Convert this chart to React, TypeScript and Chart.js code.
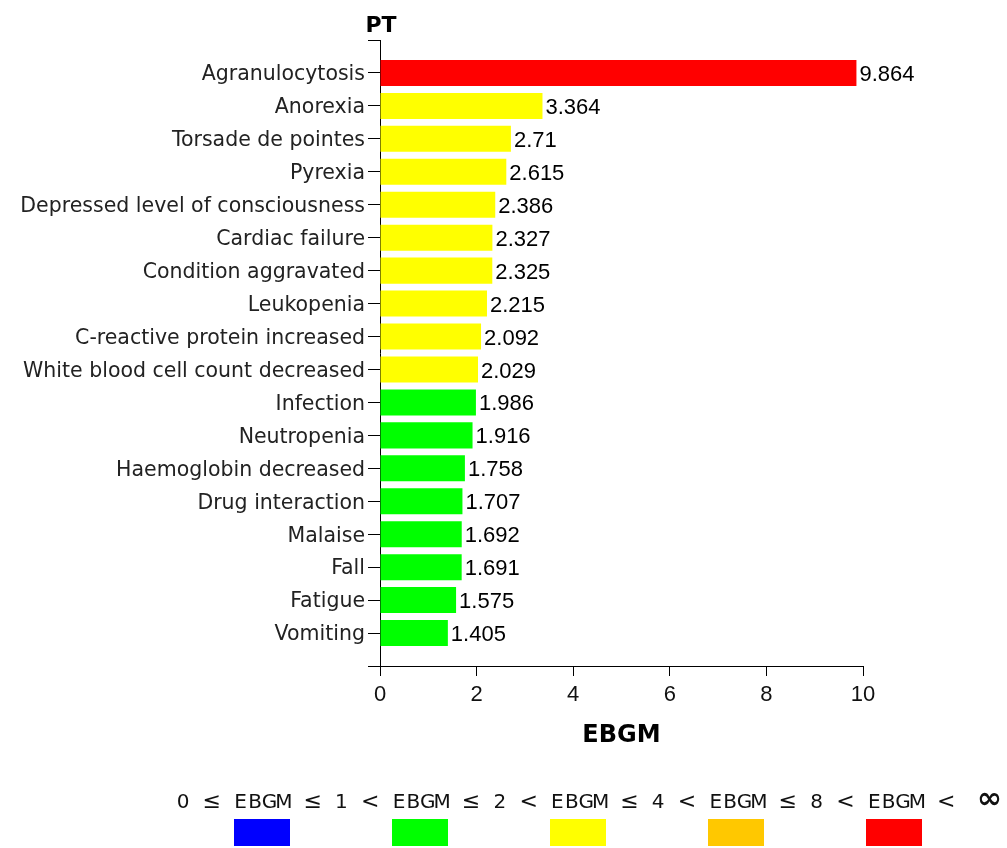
import React, { useEffect, useRef } from "react";
import { Chart, registerables } from "chart.js";

Chart.register(...registerables);

const categories = [
  "Agranulocytosis",
  "Anorexia",
  "Torsade de pointes",
  "Pyrexia",
  "Depressed level of consciousness",
  "Cardiac failure",
  "Condition aggravated",
  "Leukopenia",
  "C-reactive protein increased",
  "White blood cell count decreased",
  "Infection",
  "Neutropenia",
  "Haemoglobin decreased",
  "Drug interaction",
  "Malaise",
  "Fall",
  "Fatigue",
  "Vomiting",
];

const ebgmValues = [
  9.864, 3.364, 2.71, 2.615, 2.386, 2.327, 2.325, 2.215, 2.092, 2.029, 1.986,
  1.916, 1.758, 1.707, 1.692, 1.691, 1.575, 1.405,
];

const xTicks = [0, 2, 4, 6, 8, 10];

const legendBounds = ["0", "1", "2", "4", "8"];
const legendColors = ["#0000ff", "#00ff00", "#ffff00", "#ffc800", "#ff0000"];
const legendThresholds = [1, 2, 4, 8];

function colorFor(v: number): string {
  if (v <= legendThresholds[0]) return legendColors[0];
  if (v <= legendThresholds[1]) return legendColors[1];
  if (v <= legendThresholds[2]) return legendColors[2];
  if (v <= legendThresholds[3]) return legendColors[3];
  return legendColors[4];
}

export default function App() {
  const ref = useRef<HTMLCanvasElement | null>(null);

  useEffect(() => {
    if (!ref.current) return;
    const labels = ["", ...categories, ""];
    const data = [null, ...ebgmValues, null];
    const colors = ["#fff", ...ebgmValues.map(colorFor), "#fff"];

    const overlay = {
      id: "overlay",
      afterDraw(chart: any) {
        const ctx = chart.ctx as CanvasRenderingContext2D;
        const area = chart.chartArea;
        const meta = chart.getDatasetMeta(0);
        ctx.save();
        // value labels
        ctx.fillStyle = "#000";
        ctx.font = '22px "Liberation Sans"';
        ctx.textAlign = "left";
        ctx.textBaseline = "middle";
        meta.data.forEach((el: any, i: number) => {
          const v = data[i];
          if (v == null) return;
          ctx.fillText(String(v), el.x + 3, el.y + 2);
        });
        // PT title
        ctx.font = 'bold 22px "DejaVu Sans"';
        ctx.textAlign = "center";
        ctx.textBaseline = "alphabetic";
        ctx.fillText("PT", area.left + 1, 32);
        // EBGM axis title
        ctx.font = 'bold 24px "DejaVu Sans"';
        ctx.fillText("EBGM", (area.left + area.right) / 2, 742);
        // legend text
        const parts: string[] = [];
        legendBounds.forEach((b, i) => {
          parts.push(b, " ", i === 0 ? "≤" : "<", " ", "E", "B", "G", "M", " ");
          if (i < legendBounds.length - 1) parts.push("≤", " ");
          else parts.push("<", " ", " ", "∞");
        });
        ctx.fillStyle = "#111";
        ctx.textAlign = "center";
        const step = 14.4;
        const start = 183;
        parts.forEach((ch, i) => {
          if (ch === " ") return;
          if (ch === "∞") ctx.font = 'bold 30px "DejaVu Sans"';
          else if (ch === "≤" || ch === "<") ctx.font = '22px "DejaVu Sans"';
          else ctx.font = '20px "DejaVu Sans"';
          ctx.fillText(ch, start + i * step, 808);
        });
        // legend boxes
        legendColors.forEach((c, i) => {
          ctx.fillStyle = c;
          ctx.fillRect(234 + i * 158, 819, 56, 27);
        });
        ctx.restore();
      },
    };

    const chart = new Chart(ref.current, {
      type: "bar",
      data: {
        labels,
        datasets: [
          {
            data,
            backgroundColor: colors,
            borderWidth: 0,
            barPercentage: 0.79,
            categoryPercentage: 1,
          },
        ],
      },
      options: {
        indexAxis: "y",
        responsive: false,
        animation: false,
        layout: { padding: { left: 0, right: 144, top: 40, bottom: 142 } },
        plugins: { legend: { display: false }, tooltip: { enabled: false } },
        scales: {
          y: {
            type: "category",
            offset: false,
            afterFit: (s: any) => {
              s.width = 380;
            },
            grid: {
              offset: false,
              drawOnChartArea: false,
              drawTicks: true,
              tickLength: 12,
              color: "#000",
              tickColor: "#000",
            },
            border: { display: true, color: "#000", width: 1 },
            ticks: {
              autoSkip: false,
              color: "#222",
              padding: 3,
              labelOffset: 2,
              font: { family: "DejaVu Sans", size: 20.5 },
            },
          },
          x: {
            type: "linear",
            min: 0,
            max: 10,
            afterFit: (s: any) => {
              s.height = 40;
            },
            afterBuildTicks: (s: any) => {
              s.ticks = xTicks.map((v) => ({ value: v }));
            },
            grid: {
              drawOnChartArea: false,
              drawTicks: true,
              tickLength: 10,
              color: "#000",
              tickColor: "#000",
            },
            border: { display: true, color: "#000", width: 1 },
            ticks: {
              color: "#111",
              padding: 6,
              font: { family: "Liberation Sans", size: 22 },
            },
          },
        },
      },
      plugins: [overlay],
    });
    return () => chart.destroy();
  }, []);

  return (
    <div style={{ position: "absolute", left: 0, top: 0, width: 1007, height: 848, background: "#fff" }}>
      <canvas ref={ref} width={1007} height={848} style={{ width: 1007, height: 848 }} />
    </div>
  );
}
